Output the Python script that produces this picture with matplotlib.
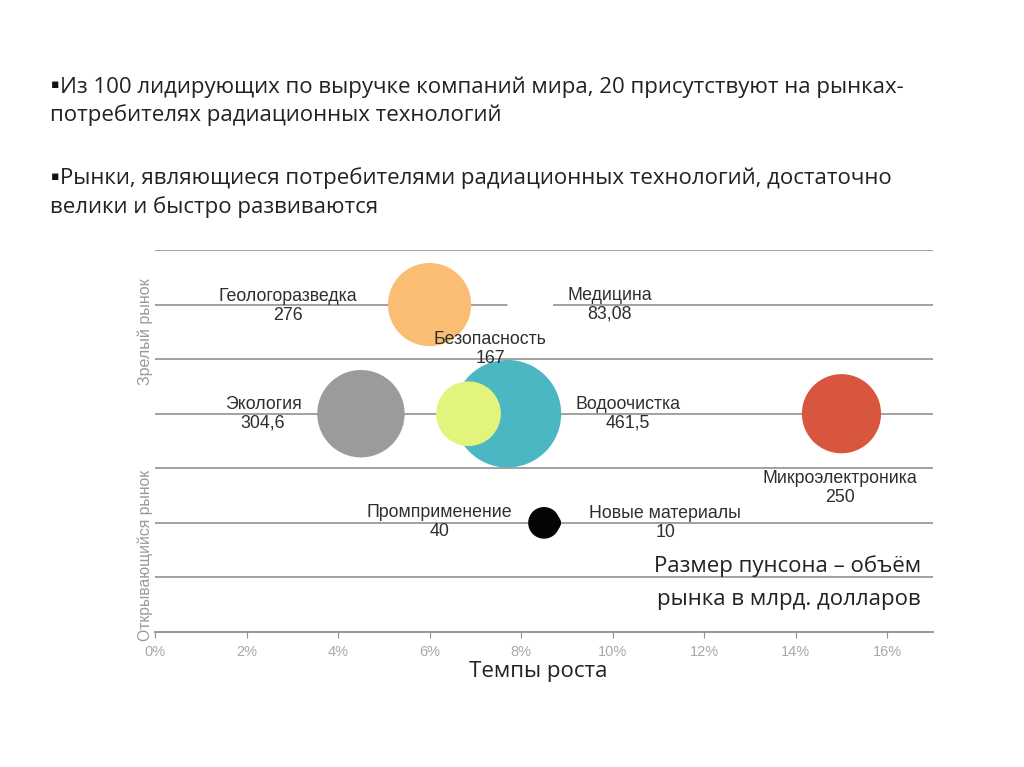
import numpy as np
import matplotlib.pyplot as plt

# market data
markets = ['Геологоразведка', 'Медицина', 'Безопасность', 'Экология',
           'Водоочистка', 'Микроэлектроника', 'Промприменение', 'Новые материалы']
volume_labels = ['276', '83,08', '167', '304,6', '461,5', '250', '40', '10']
volume = [276, 83.08, 167, 304.6, 461.5, 250, 40, 10]
growth = [6.0, 8.2, 6.85, 4.5, 7.7, 15.0, 8.5, 8.7]   # % growth
level = [6, 6, 4, 4, 4, 4, 2, 2]
colors = ['#fbbd74', '#ffffff', '#e2f47c', '#9b9b9b',
          '#4bb7c3', '#d8563e', '#050505', '#050505']
# draw order: big teal before the small green one
order = [0, 1, 4, 2, 3, 5, 6, 7]

# label placement (x in %, y in rows)
lab_x = [2.9, 9.94, 7.32, 2.36, 10.34, 14.97, 6.21, 11.15]
lab_y = [5.97, 6.0, 5.19, 4.0, 4.0, 2.64, 2.02, 2.0]

xticks = [0, 2, 4, 6, 8, 10, 12, 14, 16]

W, H = 1024, 767
fig = plt.figure(figsize=(W / 100, H / 100), dpi=100)
ax = fig.add_axes([155 / W, 1 - 632 / H, (933 - 155) / W, (632 - 250) / H])
ax.set_xlim(0, 17)
ax.set_ylim(0, 7)

# grid rows
for yy in range(1, 8):
    ax.axhline(yy, color='#9a9a9a', lw=1.3, zorder=0)

scale = 13.0
for i in order:
    ax.scatter(growth[i], level[i], s=volume[i] * scale, color=colors[i],
               edgecolors='none', zorder=2)

for i in range(len(markets)):
    ax.text(lab_x[i], lab_y[i], markets[i] + '\n' + volume_labels[i],
            ha='center', va='center', fontsize=12.8, color='#2e2e2e',
            family='Liberation Sans', linespacing=1.15, zorder=3)

for s in ['top', 'right', 'left']:
    ax.spines[s].set_visible(False)
ax.spines['bottom'].set_color('#8f8f8f')
ax.spines['bottom'].set_linewidth(1.3)
ax.set_yticks([])
ax.set_xticks(xticks)
ax.set_xticklabels([f'{t}%' for t in xticks], fontsize=10.5, color='#a8a8a8',
                   family='Liberation Sans')
ax.tick_params(axis='x', length=4, color='#8f8f8f', pad=5)

fig.text(145 / W, 1 - 332 / H, 'Зрелый рынок', rotation=90, ha='center', va='center',
         fontsize=11.5, color='#9a9a9a', family='Liberation Sans')
fig.text(145 / W, 1 - 555 / H, 'Открывающийся рынок', rotation=90, ha='center',
         va='center', fontsize=11.3, color='#9a9a9a', family='Liberation Sans')

# slide text
body = dict(fontsize=16, color='#222222', family=['Open Sans', 'DejaVu Sans'], va='center')
bullet = dict(fontsize=9, color='#111111', family='DejaVu Sans', va='center')
fig.text(51 / W, 1 - 85 / H, '▪', **bullet)
fig.text(60 / W, 1 - 87 / H, 'Из 100 лидирующих по выручке компаний мира, 20 присутствуют на рынках-', **body)
fig.text(50 / W, 1 - 115 / H, 'потребителях радиационных технологий', **body)
fig.text(51 / W, 1 - 176 / H, '▪', **bullet)
fig.text(60 / W, 1 - 178 / H, 'Рынки, являющиеся потребителями радиационных технологий, достаточно', **body)
fig.text(50 / W, 1 - 207 / H, 'велики и быстро развиваются', **body)

fig.text(921 / W, 1 - 566 / H, 'Размер пунсона – объём', ha='right', **body)
fig.text(921 / W, 1 - 600 / H, 'рынка в млрд. долларов', ha='right', **body)
fig.text(538 / W, 1 - 671 / H, 'Темпы роста', ha='center', **body)

fig.savefig('out.png', dpi=100)
